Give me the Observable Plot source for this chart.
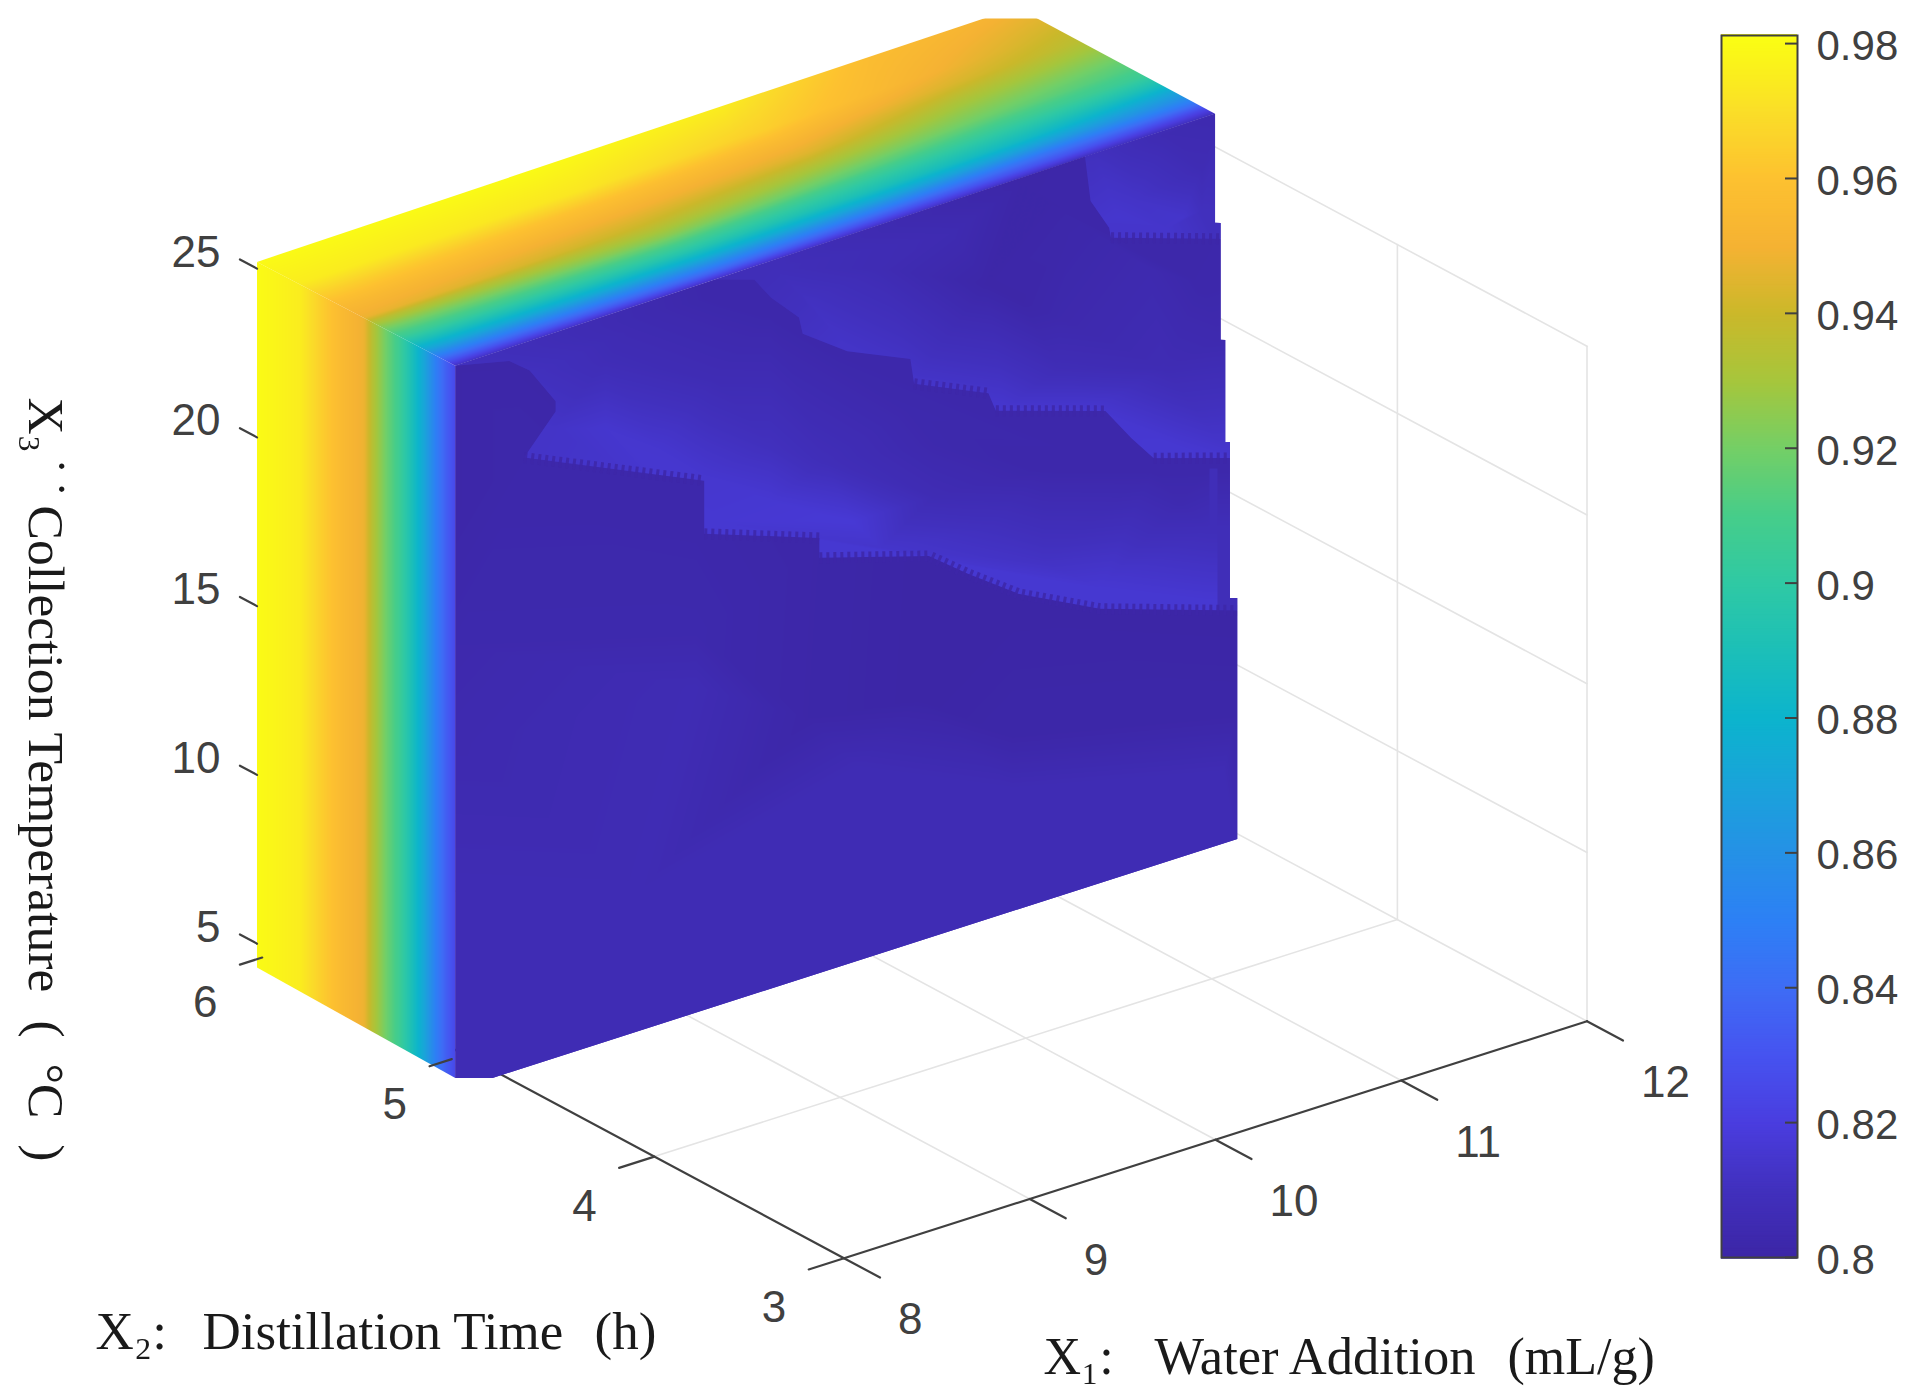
<!DOCTYPE html>
<html>
<head>
<meta charset="utf-8">
<script src="https://cdn.jsdelivr.net/npm/d3@7"></script>
<script src="https://cdn.jsdelivr.net/npm/@observablehq/plot@0.6"></script>
<style>
html,body{margin:0;padding:0;background:#fff}
#chart{position:relative;width:1918px;height:1400px;overflow:hidden}
#chart svg{display:block;background:transparent}
#chart>div{position:absolute;left:0;top:0}
#bar{left:1680px !important}
</style>
</head>
<body>
<div id="chart"><div id="main"></div><div id="bar"></div></div>
<script>
// ---- colour map
const colorStops = [0.80,0.81,0.82,0.83,0.84,0.85,0.86,0.87,0.88,0.89,0.90,0.91,0.92,0.93,0.94,0.95,0.96,0.97,0.98];
const colorRange = ["#3c26a6","#4130bd","#4a3ddf","#4653f0","#3e6cf5","#2d80f5","#2591e6","#1aa3da","#0cb4cd","#1cbfb8","#2fc9a4","#46cd8a","#74cf66","#a6c63c","#cbb82a","#f5b233","#fdc130","#fade28","#fafb15"];
const colorOpts = {type:"linear",domain:colorStops,range:colorRange,legend:false};

// ---- axes ticks
const x1Ticks = [8,9,10,11,12];
const x2Ticks = [3,4,5,6];
const x3Ticks = [5,10,15,20,25];
const barTicks = [0.8,0.82,0.84,0.86,0.88,0.9,0.92,0.94,0.96,0.98];

// ---- slab limits
const x2Back = 6.096, x2Front = 5.05;

// left face: value across X2
const leftX2 = [6.2,6.096,5.867,5.76,5.64,5.53,5.49,5.42,5.34,5.28,5.21,5.155,5.10,5.05,5.0];
const leftV  = [0.98,0.98,0.975,0.965,0.955,0.948,0.935,0.92,0.905,0.89,0.87,0.85,0.835,0.825,0.825];
const leftOutline = [[6.096,4.29],[6.096,25.2],[5.05,25.27],[5.05,4.17]];

// top face: rows in X1, columns in X2
const topX2 = [5.0,5.05,5.10,5.155,5.21,5.28,5.34,5.42,5.49,5.53,5.64,5.76,5.867,6.096,6.2];
const topX1 = [8,9.5,10.5,11.3,12.09];
const topZ  = [25.25,25.35,25.42,25.5,25.56];
const topV = [
 [0.81,0.81,0.83,0.85,0.87,0.89,0.905,0.92,0.935,0.948,0.955,0.965,0.975,0.98,0.98],
 [0.81,0.81,0.835,0.855,0.875,0.895,0.908,0.925,0.935,0.94,0.95,0.96,0.973,0.98,0.98],
 [0.81,0.81,0.83,0.85,0.87,0.89,0.90,0.915,0.925,0.93,0.945,0.955,0.965,0.975,0.975],
 [0.81,0.81,0.83,0.845,0.865,0.885,0.895,0.908,0.918,0.922,0.932,0.945,0.952,0.957,0.957],
 [0.81,0.81,0.825,0.845,0.86,0.875,0.89,0.905,0.912,0.915,0.925,0.935,0.94,0.95,0.95]
];

// front face edges, as [X1, X3]
const bottomEdge = [[8,4.17],[8.2,3.82],[12.21,3.86]];
const stepB1 = [[8.37,21.9],[9.34,19.51],[9.34,17.94],[9.96,16.73],[9.96,16.14],[10.55,15.16],[10.76,14.26],[11.03,13.2],[11.47,11.98],[12.21,10.63]];
const stepBlob = [[8,25.27],[8.29,24.9],[8.40,24.43],[8.54,23.27],[8.54,22.97],[8.37,21.9]];
const stepR2 = [[9.40,25.37],[9.61,24.99],[9.70,24.3],[9.85,23.45],[9.87,22.94],[10.11,22.0],[10.45,21.17],[10.47,20.4],[10.87,19.42],[10.91,18.83],[11.50,17.79],[11.64,16.73],[11.76,15.93],[12.17,15.22]];
const stepR3 = [[11.39,25.52],[11.42,24.15],[11.52,23.18],[11.53,22.87],[12.12,21.8]];
const rightA = [[12.21,3.86],[12.21,10.63]];
const rightB = [[12.21,10.63],[12.21,11.0],[12.17,11.07],[12.17,15.22]];
const rightC = [[12.17,15.22],[12.17,15.69],[12.145,15.73],[12.145,18.76],[12.12,18.81],[12.12,21.8]];
const rightD = [[12.12,21.8],[12.12,22.27],[12.09,22.33],[12.09,25.56]];

// front face readings, as [X1, X3, value]
const samplesA = [[8,4,.806],[8,10,.806],[8,14,.804],[8,17,.803],[8,21,.801],[8,25.3,.801],[8.3,24.9,.801],[8.54,23.2,.801],[8.4,22,.802],[9.3,19.5,.802],[9.3,15,.803],[9.3,13.5,.806],[9.96,16.5,.801],[10.55,15,.8],[11,13,.8],[12.2,10.5,.8],[10.16,9.6,.806],[9.9,11.5,.801],[10.5,11,.8],[12.14,6,.806],[12.2,7.5,.801],[11,9,.801],[11,7.5,.806],[12.2,3.86,.806],[10,4,.806],[9,8,.806]];
const samplesB = [[8,25.3,.81],[8.43,24.3,.81],[8.81,24,.807],[8.96,24.7,.805],[9.4,24.9,.802],[9.7,23.9,.802],[9.4,22.45,.806],[8.81,22,.815],[8.52,22.5,.813],[9.1,20.9,.815],[9.34,19.7,.815],[9.7,19.9,.81],[9.7,18.3,.816],[9.4,18.2,.816],[10.14,16.9,.817],[10.29,15.86,.814],[9.99,18.96,.808],[10.43,19.66,.803],[10.58,18.4,.803],[10.58,16.9,.806],[10.88,15.4,.81],[11.17,16.67,.802],[11.17,13.9,.812],[11.47,12.6,.816],[12.06,11.18,.816],[12.06,13.3,.808],[12.06,15.1,.802],[11.76,15.6,.802],[11.9,14.4,.804]];
const samplesC = [[9.9,23.86,.811],[10.09,22.25,.813],[10.48,20.57,.813],[10.96,18.83,.815],[10.28,24.16,.806],[10.86,22.67,.801],[11.05,21.83,.801],[11.25,20.99,.803],[11.25,19.5,.807],[11.44,17.98,.815],[11.82,18.5,.806],[11.92,15.95,.816],[11.73,21.63,.804],[12.02,20.64,.802],[11.31,23.37,.802],[11.2,24.5,.801],[11.05,25.3,.801],[10.67,24.5,.805],[9.71,25.17,.808],[12.17,15.3,.815],[12.12,18.8,.804]];
const samplesD = [[11.84,25.4,.805],[11.66,23.74,.813],[12.02,24.1,.806],[11.84,22.6,.814],[11.57,23.4,.815],[12.02,22.8,.81],[11.63,25.26,.808],[11.44,25.6,.81],[11.92,22.77,.814],[11.4,23.5,.814],[12.12,25.5,.804]];

// ---- camera: X1, X2, X3 to the picture plane
const camera = {ox:843.5,oy:1257.7,x1x:185.75,x1y:59.25,x2x:189.6,x2y:101.6,zy:33.75};
const cx = (a,b) => camera.ox + camera.x1x*(a-8) - camera.x2x*(b-3);
const cy = (a,b,c) => camera.oy - camera.x1y*(a-8) - camera.x2y*(b-3) - camera.zy*(c-5);
const P = (a,b,c) => ({x:cx(a,b),y:cy(a,b,c)});
const seg = (id,pts,extra={}) => pts.map(p => ({...p,id,...extra}));
const F = ([a,c]) => P(a,x2Front,c);                      // point on the front face
const geo = pts => { const r = pts.map(p => [p.x,p.y]); r.push(r[0]); return {type:"Polygon",coordinates:[r]}; };

// ---- floor and wall grid
const gridLines = [];
for (const a of [9,10,11]) gridLines.push(...seg("a"+a,[P(a,3,5),P(a,x2Back,5)]));
for (const b of [4,5]) gridLines.push(...seg("b"+b,[P(8,b,5),P(12,b,5)]));
gridLines.push(...seg("wallfloor",[P(12,3,5),P(12,x2Back,5)]));
for (const c of [10,15,20,25]) gridLines.push(...seg("c"+c,[P(12,3,c),P(12,x2Back,c)]));
for (const b of [3,4]) gridLines.push(...seg("v"+b,[P(12,b,5),P(12,b,25)]));

// ---- axis lines and ticks
const axisLines = [...seg("x1",[P(8,3,5),P(12,3,5)]),...seg("x2",[P(8,3,5),P(8,x2Back,5)])];
const tickLines = [];
for (const a of x1Ticks) tickLines.push(...seg("tx"+a,[P(a,3,5),P(a,2.81,5)]));
for (const b of x2Ticks) tickLines.push(...seg("ty"+b,[P(b<5?8:7.93,b,5),P(7.81,b,5)]));
for (const c of x3Ticks) tickLines.push(...seg("tz"+c,[P(8,x2Back,c),P(8,x2Back+0.09,c)]));

// ---- surfaces (interpolated shading between the values read above)
const leftPoly = leftOutline.map(([b,c]) => P(8,b,c));
const leftSamples = leftX2.flatMap((b,i) => d3.range(3.5,26.5,0.25).map(c => ({...P(8,b,c),v:leftV[i]})));
const topPoly = [P(8,x2Back,25.2),P(12.09,x2Back,25.56),P(12.09,x2Front,25.56),P(8,x2Front,25.27)];
const zAt = d3.scaleLinear(topX1,topZ);
const topSamples = d3.range(7.9,12.4,0.05).flatMap(a => topX2.map((b,j) => {
  const v = d3.scaleLinear(topX1,topV.map(r => r[j])).clamp(true)(a);
  return {...P(a,b,zAt(a)),v};
}));
const polyA = [...bottomEdge,...rightA.slice(1),...stepB1.slice().reverse().slice(1),...stepBlob.slice().reverse().slice(1)].map(F);
const polyB = [...stepBlob,...stepB1.slice(1),...rightB.slice(1),...stepR2.slice().reverse().slice(1)].map(F);
const polyC = [...stepR2,...rightC.slice(1),...stepR3.slice().reverse().slice(1)].map(F);
const polyD = [...stepR3,...rightD.slice(1)].map(F);
const frontBase = [...bottomEdge,...rightA.slice(1),...rightB.slice(1),...rightC.slice(1),...rightD.slice(1),[9.4,25.37],[8,25.27]].map(F);
const S = arr => arr.map(([a,c,v]) => ({...F([a,c]),v}));
const raster = (samples,poly) => Plot.raster(samples,{x:"x",y:"y",fill:"v",interpolate:"barycentric",clip:geo(poly)});
const comb = (pts) => Plot.line(pts.map(F),{x:"x",y:"y",stroke:()=>0.801,strokeWidth:11,strokeDasharray:"3 4",strokeOpacity:0.85,strokeLinecap:"butt"});

const ink = "#404040", serif = "#1a1a1a";
const titlePart = (s,x,y,size,extra={}) => Plot.text([s],{x:()=>x,y:()=>y,text:d=>d,textAnchor:"start",lineAnchor:"bottom",fontFamily:"Liberation Serif",fontSize:size,fill:serif,...extra});
const main = Plot.plot({
  width:1918,height:1400,marginTop:18,marginLeft:0,marginRight:0,marginBottom:0,
  style:{background:"transparent"},
  x:{domain:[0,1918],range:[0,1918],axis:null},
  y:{domain:[18,1400],range:[18,1400],axis:null},
  color:colorOpts,
  marks:[
    Plot.line(gridLines,{x:"x",y:"y",z:"id",stroke:"#e4e4e4",strokeWidth:1.6}),
    Plot.line(axisLines,{x:"x",y:"y",z:"id",stroke:ink,strokeWidth:2.2}),
    Plot.line(frontBase,{x:"x",y:"y",fill:()=>0.805,stroke:"none"}),
    raster(leftSamples,leftPoly),
    raster(topSamples,topPoly),
    raster(S(samplesA),polyA),
    raster(S(samplesB),polyB),
    raster(S(samplesC),polyC),
    raster(S(samplesD),polyD),
    comb(stepB1.slice(0,2)),comb(stepB1.slice(2,4)),comb(stepB1.slice(4)),
    comb(stepR2.slice(7,9)),comb(stepR2.slice(9,11)),comb(stepR2.slice(12)),comb(stepR3.slice(3)),
    Plot.line(tickLines,{x:"x",y:"y",z:"id",stroke:ink,strokeWidth:2.2}),
    Plot.text(x1Ticks,{x:d=>cx(d,3),y:d=>cy(d,3,5),text:d=>`${d}`,dx:54,dy:62,textAnchor:"start",fontFamily:"Liberation Sans",fontSize:44,fill:ink}),
    Plot.text(x2Ticks,{x:d=>cx(8,d),y:d=>cy(8,d,5),text:d=>`${d}`,dx:-70,dy:50,textAnchor:"middle",fontFamily:"Liberation Sans",fontSize:44,fill:ink}),
    Plot.text(x3Ticks,{x:d=>cx(8,x2Back),y:d=>cy(8,x2Back,d),text:d=>`${d}`,dx:-36.5,dy:-16,textAnchor:"end",fontFamily:"Liberation Sans",fontSize:44,fill:ink}),
    titlePart("X₂:",95,1348,53),
    titlePart("Distillation Time",202,1348,53),
    titlePart("(h)",594,1348,53),
    titlePart("X₁:",1043,1373,52),
    titlePart("Water Addition",1154,1373,52.5),
    titlePart("(mL/g)",1507,1373,52),
    titlePart("X₃",28,397,51.6,{rotate:90}),
    titlePart("˙",30,457,51.6,{rotate:90}),
    titlePart("˙",30,480,51.6,{rotate:90}),
    titlePart("Collection Temperature",28,505,51.6,{rotate:90}),
    titlePart("(  °C  )",28,1020,51.6,{rotate:90})
  ]
});
document.getElementById("main").append(main);

// ---- colour bar
const barLevels = d3.range(0,726).map(i => 0.8 + i*0.00025);
const bar = Plot.plot({
  width:238,height:1400,marginLeft:41,marginRight:121,marginTop:35,marginBottom:143,
  style:{background:"transparent"},
  x:{axis:null,domain:[0,1]},
  y:{domain:[0.8,0.9812],axis:null},
  color:colorOpts,
  marks:[
    Plot.ruleY(barLevels,{y:d=>d,stroke:d=>d,strokeWidth:2.5}),
    Plot.axisY(barTicks,{anchor:"right",tickSize:-13,tickFormat:()=>"",stroke:ink,strokeWidth:2,label:null}),
    Plot.text(barTicks,{y:d=>d,frameAnchor:"right",dx:19,dy:3,textAnchor:"start",text:d=>`${d}`,fontFamily:"Liberation Sans",fontSize:42,fill:ink}),
    Plot.frame({stroke:ink,strokeWidth:2})
  ]
});
document.getElementById("bar").append(bar);
</script>
</body>
</html>
